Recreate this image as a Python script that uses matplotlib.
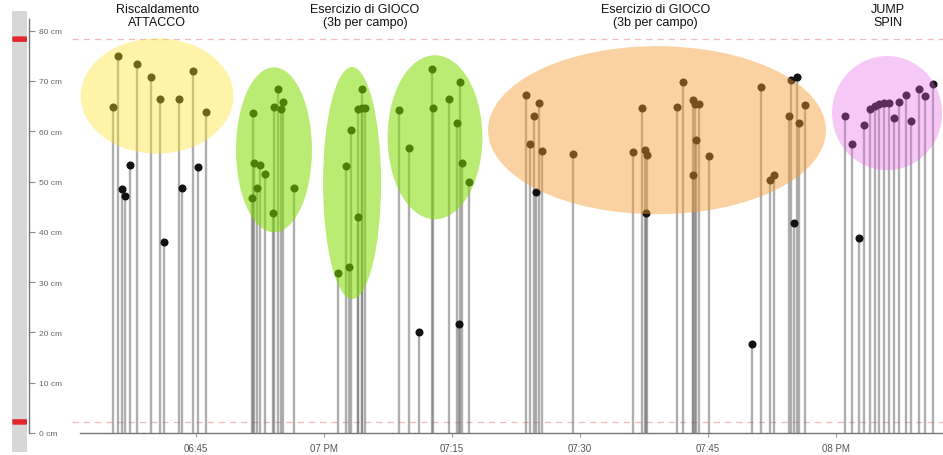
import matplotlib
matplotlib.use("Agg")
import matplotlib.pyplot as plt
from matplotlib.patches import Ellipse, Rectangle, FancyBboxPatch
import matplotlib.transforms as mtransforms

plt.rcParams['font.family'] = ['Liberation Sans', 'DejaVu Sans']

# Jump heights (cm) with their timestamps
jump_times = [
    "18:35:14", "18:35:49", "18:36:18", "18:36:41", "18:37:16", "18:38:03", "18:39:41",
    "18:40:49", "18:41:15", "18:42:58", "18:43:19", "18:44:41", "18:45:16", "18:46:08",
    "18:51:32", "18:51:39", "18:51:46", "18:52:11", "18:52:29", "18:53:05", "18:53:59",
    "18:54:07", "18:54:39", "18:54:58", "18:55:14", "18:56:31",
    "19:01:41", "19:02:35", "19:02:58", "19:03:10", "19:03:57", "19:04:01", "19:04:25",
    "19:04:29", "19:04:48",
    "19:08:49", "19:10:00", "19:11:10", "19:12:37", "19:12:49", "19:14:39", "19:15:37",
    "19:15:49", "19:15:56", "19:16:08", "19:17:00",
    "19:23:40", "19:24:09", "19:24:37", "19:24:51", "19:25:14", "19:25:35", "19:29:13",
    "19:36:11", "19:37:18", "19:37:37", "19:37:44", "19:37:53", "19:41:24", "19:42:06",
    "19:43:13", "19:43:17", "19:43:29", "19:43:34", "19:43:59", "19:45:09",
    "19:50:12", "19:51:11", "19:52:16", "19:52:44", "19:54:32", "19:54:44", "19:55:05",
    "19:55:28", "19:55:40", "19:56:22",
    "20:01:03", "20:01:51", "20:02:42", "20:03:17", "20:03:59", "20:04:34", "20:05:05",
    "20:05:40", "20:06:15", "20:06:48", "20:07:25", "20:08:12", "20:08:47", "20:09:44",
    "20:10:26", "20:11:20",
]
jump_heights = [
    64.9, 74.9, 48.5, 47.1, 53.3, 73.4, 70.8,
    66.5, 37.9, 66.5, 48.8, 71.9, 52.8, 63.8,
    46.7, 63.6, 53.7, 48.7, 53.3, 51.5, 43.7,
    64.9, 68.3, 64.4, 65.9, 48.7,
    31.8, 53.1, 33.1, 60.2, 64.4, 42.9, 68.3,
    64.6, 64.6,
    64.3, 56.6, 20.0, 72.4, 64.7, 66.5, 61.6,
    21.6, 69.7, 53.6, 50.0,
    67.2, 57.5, 63.0, 48.0, 65.7, 56.0, 55.5,
    55.9, 64.6, 56.2, 43.7, 55.3, 64.9, 69.7,
    66.3, 51.3, 65.5, 58.3, 65.5, 55.1,
    17.7, 68.7, 50.2, 51.2, 63.0, 70.2, 41.7,
    70.7, 61.6, 65.3,
    63.0, 57.5, 38.7, 61.2, 64.5, 65.1, 65.4,
    65.6, 65.6, 62.6, 65.9, 67.2, 62.1, 68.4,
    66.9, 69.4,
]

# Threshold lines (cm)
thresholds = [2.2, 78.3]

# Axis ticks
x_tick_times = ["18:45", "19:00", "19:15", "19:30", "19:45", "20:00"]
x_tick_labels = ["06:45", "07 PM", "07:15", "07:30", "07:45", "08 PM"]
y_ticks = [0, 10, 20, 30, 40, 50, 60, 70, 80]
x_range = ["18:31:24", "20:12:32"]

# Highlighted training phases
phase_labels = ["Riscaldamento\nATTACCO", "Esercizio di GIOCO\n(3b per campo)",
                "Esercizio di GIOCO\n(3b per campo)", "JUMP\nSPIN"]
phase_label_times = ["18:40:26", "19:04:48", "19:38:48", "20:06:06"]

zone_times = ["18:40:26", "18:54:08", "19:03:17", "19:13:00", "19:39:01", "20:05:59"]
zone_heights = [67.0, 56.3, 49.7, 58.8, 60.2, 63.6]
zone_widths = [17.9, 8.9, 6.8, 11.1, 39.6, 12.9]     # minutes
zone_spans = [22.9, 32.8, 46.1, 32.6, 33.4, 22.7]    # cm
zone_colors = ["#ffe12a", "#82dc00", "#82dc00", "#82dc00", "#f59b2d", "#e664e6"]
zone_alphas = [0.40, 0.55, 0.55, 0.55, 0.45, 0.35]


def to_min(t):
    parts = [int(p) for p in t.split(":")]
    while len(parts) < 3:
        parts.append(0)
    return (parts[0] - 18) * 60 + parts[1] + parts[2] / 60.0


W, H = 943, 456
fig = plt.figure(figsize=(W / 100, H / 100), dpi=100)
fig.patch.set_facecolor("white")

ymax = 434 / 5.03
ax = fig.add_axes([80 / W, 22 / H, 863 / W, 434 / H])
ax.set_xlim(to_min(x_range[0]), to_min(x_range[1]))
ax.set_ylim(0, ymax)
ax.patch.set_alpha(0)

xs = [to_min(t) for t in jump_times]

# Stems and markers
ax.vlines(xs, 0, jump_heights, colors="#6e6e6e", linewidth=1.7, alpha=0.55, zorder=2)
ax.plot(xs, jump_heights, "o", color="#111111", markersize=5.8, zorder=3,
        markeredgewidth=0)

# Phase highlights
for t, h, w, s, c, a in zip(zone_times, zone_heights, zone_widths, zone_spans,
                            zone_colors, zone_alphas):
    ax.add_patch(Ellipse((to_min(t), h), w, s, facecolor=c, edgecolor="none",
                         alpha=a, zorder=4))

for lbl, t in zip(phase_labels, phase_label_times):
    ax.text(to_min(t), 83.0, lbl, ha="center", va="center", fontsize=9,
            color="#111111", linespacing=1.05, zorder=6)

# Threshold dashed lines
blend = mtransforms.blended_transform_factory(fig.transFigure, ax.transData)
for th in thresholds:
    ax.plot([72 / W, 1.0], [th, th], transform=blend, linestyle=(0, (5, 4)),
            color="#eebcbc", linewidth=0.9, clip_on=False, zorder=1)

# X axis styling
for side in ["top", "right", "left"]:
    ax.spines[side].set_visible(False)
ax.spines["bottom"].set_color("#777777")
ax.spines["bottom"].set_linewidth(1.0)
ax.set_yticks([])
ax.set_xticks([to_min(t) for t in x_tick_times])
ax.set_xticklabels(x_tick_labels)
ax.tick_params(axis="x", length=3, width=0.8, color="#999999", labelsize=7,
               labelcolor="#555555", pad=4)

# Left height scale with range bar
ax_y = fig.add_axes([12 / W, 22 / H, 17 / W, 434 / H])
ax_y.set_ylim(0, ymax)
ax_y.set_xlim(0, 1)
ax_y.patch.set_alpha(0)
for side in ["top", "left", "bottom"]:
    ax_y.spines[side].set_visible(False)
ax_y.spines["right"].set_color("#777777")
ax_y.spines["right"].set_linewidth(1.0)
ax_y.spines["right"].set_bounds(0, 82.3)
ax_y.set_xticks([])
ax_y.yaxis.tick_right()
ax_y.set_yticks(y_ticks)
ax_y.set_yticklabels([f"{v} cm" for v in y_ticks])
ax_y.tick_params(axis="y", length=4, width=0.8, color="#888888", labelsize=6,
                 labelcolor="#666666", pad=3)

fig.add_artist(Rectangle((12 / W, 3 / H), 15 / W, 441 / H, transform=fig.transFigure,
                         facecolor="#d7d7d7", edgecolor="none", zorder=0))
yblend = mtransforms.blended_transform_factory(ax_y.transAxes, ax_y.transData)
for th in thresholds:
    ax_y.add_patch(FancyBboxPatch((0.02, th - 0.55), 0.86, 1.1,
                                  boxstyle="round,pad=0,rounding_size=0.1",
                                  transform=yblend, facecolor="#e3262b",
                                  edgecolor="none", clip_on=False, zorder=5))

fig.savefig("out.png", dpi=100)
